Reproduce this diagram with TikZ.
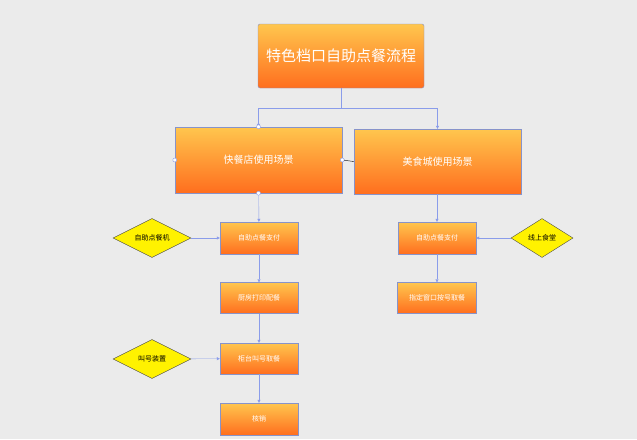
\documentclass[tikz,border=0pt]{standalone}
\usepackage{fontspec}
\newfontfamily\cjk{Noto Sans CJK SC}
\usetikzlibrary{shapes.geometric,arrows.meta}
\definecolor{bg}{HTML}{EBEBEB}
\definecolor{topc}{HTML}{FFC64E}
\definecolor{botc}{HTML}{FF6E1E}
\definecolor{linec}{HTML}{8A9CEA}
\begin{document}
\begin{tikzpicture}[x=1pt, y=-1pt,
		box_style/.style={rectangle,draw=linec!70!gray,top color=topc,bottom color=botc,text=white,font=\cjk,inner sep=0pt},
		dia_style/.style={diamond,draw=black!70,fill=yellow,font=\cjk\fontsize{7}{8}\selectfont,aspect=2,inner sep=0pt,minimum width=78pt,minimum height=39pt},
		edge_style/.style={draw=linec,-{Triangle[length=3pt,width=3pt]}}]
		\fill[bg] (0,0) rectangle (637,439);
		\useasboundingbox (0,0) rectangle (637,439);
		
		\node[box_style,rounded corners=2pt,minimum width=166pt,minimum height=64pt,font=\cjk\fontsize{15}{18}\selectfont] (title) at (341,56) {特色档口自助点餐流程};
		\node[box_style,minimum width=167pt,minimum height=66pt,font=\cjk\fontsize{10}{12}\selectfont] (fast) at (258.5,160) {快餐店使用场景};
		\node[box_style,minimum width=167pt,minimum height=65pt,font=\cjk\fontsize{10}{12}\selectfont] (food) at (437.5,161.5) {美食城使用场景};
		
		\node[box_style,minimum width=78pt,minimum height=32pt,font=\cjk\fontsize{7}{8}\selectfont] (pay1) at (259,238) {自助点餐支付};
		\node[box_style,minimum width=78pt,minimum height=31pt,font=\cjk\fontsize{7}{8}\selectfont] (print) at (259,298) {厨房打印配餐};
		\node[box_style,minimum width=78pt,minimum height=31pt,font=\cjk\fontsize{7}{8}\selectfont] (call) at (259,358.5) {柜台叫号取餐};
		\node[box_style,minimum width=78pt,minimum height=32pt,font=\cjk\fontsize{7}{8}\selectfont] (done) at (259,419) {核销};
		\node[box_style,minimum width=78pt,minimum height=32pt,font=\cjk\fontsize{7}{8}\selectfont] (pay2) at (437,238) {自助点餐支付};
		\node[box_style,minimum width=79pt,minimum height=31pt,font=\cjk\fontsize{7}{8}\selectfont] (window) at (437,298) {指定窗口按号取餐};
		
		\node[dia_style] (kiosk) at (152,238) {自助点餐机};
		\node[dia_style] (caller) at (152,359) {叫号装置};
		\node[dia_style,minimum width=62pt,minimum height=39pt] (online) at (542,238) {线上食堂};
		
		\draw[edge_style] (title.south) -- ++(0,20) -| (fast.north);
		\draw[edge_style] (title.south) -- ++(0,20) -| (food.north);
		\draw[edge_style] (fast) -- (pay1);
		\draw[edge_style] (pay1) -- (print);
		\draw[edge_style] (print) -- (call);
		\draw[edge_style] (call) -- (done);
		\draw[edge_style] (food.south -| pay2) -- (pay2);
		\draw[edge_style] (pay2) -- (window);
		\draw[edge_style] (kiosk) -- (pay1);
		\draw[edge_style] (caller) -- (call);
		\draw[edge_style] (online) -- (pay2);
		\draw[black,-{Latex[length=2pt]}] (food.west) -- (fast.east);
		\foreach \p in {fast.north,fast.south,fast.west,fast.east}
			\draw[linec,fill=white] (\p) circle (2pt);
		\end{tikzpicture}
\end{document}
